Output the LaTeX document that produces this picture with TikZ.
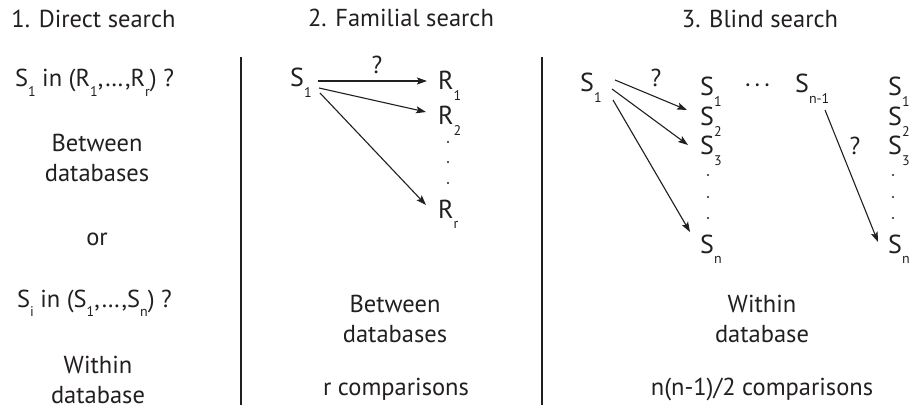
\documentclass[tikz,border=0pt]{standalone}
\usepackage{fontspec}
\setmainfont{PT Sans}
\usetikzlibrary{arrows.meta}
\definecolor{ink}{HTML}{231F20}
\newcommand{\sbs}[1]{\raisebox{-0.4em}{\fontsize{14}{14}\selectfont #1}}
\begin{document}
\begin{tikzpicture}[x=1pt,y=-1pt,
  font=\fontsize{24.5}{30}\selectfont, text=ink,
  lbl/.style={inner sep=0pt, anchor=base},
  letr/.style={inner sep=0pt, anchor=base west, text height=18pt, text depth=0pt, font=\fontsize{26}{30}\selectfont},
  arr/.style={draw=ink, line width=1.1pt, -{Stealth[length=10pt,width=7pt,inset=2pt]}},
  thickarr/.style={line width=1.8pt},
  sep/.style={draw=ink, line width=2pt},
  dot/.style={fill=ink}]
\useasboundingbox (0,0) rectangle (909,414);
\fill[white] (0,0) rectangle (909,414);

% column 1
\node[lbl] (t1) at (93.5,28) {1. Direct search};
\node[lbl] (q1) at (94.5,87) {S\sbs{1} in (R\sbs{1},…,R\sbs{r}) ?};
\node[lbl] (b1a) at (97,152) {Between};
\node[lbl] (b1b) at (97,182) {databases};
\node[lbl] (or) at (97,245) {or};
\node[lbl] (q2) at (94.5,307) {S\sbs{i} in (S\sbs{1},…,S\sbs{n}) ?};
\node[lbl] (w1a) at (98,373) {Within};
\node[lbl] (w1b) at (98,403) {database};

% separators
\draw[sep] (241,57) -- (241,405);
\draw[sep] (542,57) -- (542,405);

% column 2
\node[lbl] (t2) at (401,27) {2. Familial search};
\node[letr] (fS) at (290,87) {S\sbs{1}};
\node[letr] (fR1) at (438,90) {R\sbs{1}};
\node[letr] (fR2) at (438,125) {R\sbs{2}};
\node[letr] (fRr) at (438,218) {R\sbs{r}};
\node[lbl] (fq) at (377,74) {?};
\draw[arr,thickarr] ([shift={(28,3)}]fS.west) -- ([shift={(-11,0)}]fR1.west);
\draw[arr] ([shift={(29,10)}]fS.west) -- ([shift={(-12,-4)}]fR2.west);
\draw[arr] ([shift={(30,15)}]fS.west) -- ([shift={(-12,-4)}]fRr.west);
\foreach \yy in {142,162,183} \fill[dot] (448,\yy) circle (1.2pt);
\node[lbl] (b2a) at (395,312) {Between};
\node[lbl] (b2b) at (395,342) {databases};
\node[lbl] (rc) at (396,395) {r comparisons};

% column 3
\node[lbl] (t3) at (760,28) {3. Blind search};
\node[letr] (bS) at (580,92) {S\sbs{1}};
\node[letr] (cS1) at (700,96) {S\sbs{1}};
\node[letr] (cS2) at (700,126) {S\sbs{2}};
\node[letr] (cS3) at (700,155) {S\sbs{3}};
\node[letr] (cSn) at (700,253) {S\sbs{n}};
\node[letr] (sn1) at (795,93) {S\sbs{n-1}};
\node[letr] (dS1) at (888,96) {S\sbs{1}};
\node[letr] (dS2) at (888,126) {S\sbs{2}};
\node[letr] (dS3) at (888,155) {S\sbs{3}};
\node[letr] (dSn) at (888,253) {S\sbs{n}};
\node[lbl] (cdots) at (757.5,93) {·\hspace{3pt}·\hspace{3pt}·};
\node[lbl] (bq1) at (656,87) {?};
\node[lbl] (bq2) at (855,155) {?};
\draw[arr] ([shift={(35,-3)}]bS.west) -- ([shift={(-13,-7)}]cS2.west);
\draw[arr] ([shift={(32,6)}]bS.west) -- ([shift={(-12,-1)}]cS3.west);
\draw[arr] ([shift={(33,17)}]bS.west) -- ([shift={(-10,-12)}]cSn.west);
\draw[arr] ([shift={(30,26)}]sn1.west) -- ([shift={(-10,-2)}]dSn.west);
\foreach \yy in {175,197,218} {
  \fill[dot] (708,\yy) circle (1.2pt);
  \fill[dot] (893,\yy) circle (1.2pt);
}
\node[lbl] (w3a) at (762,312) {Within};
\node[lbl] (w3b) at (762,342) {database};
\node[lbl] (nc) at (762,395) {n(n-1)/2 comparisons};
\end{tikzpicture}
\end{document}
